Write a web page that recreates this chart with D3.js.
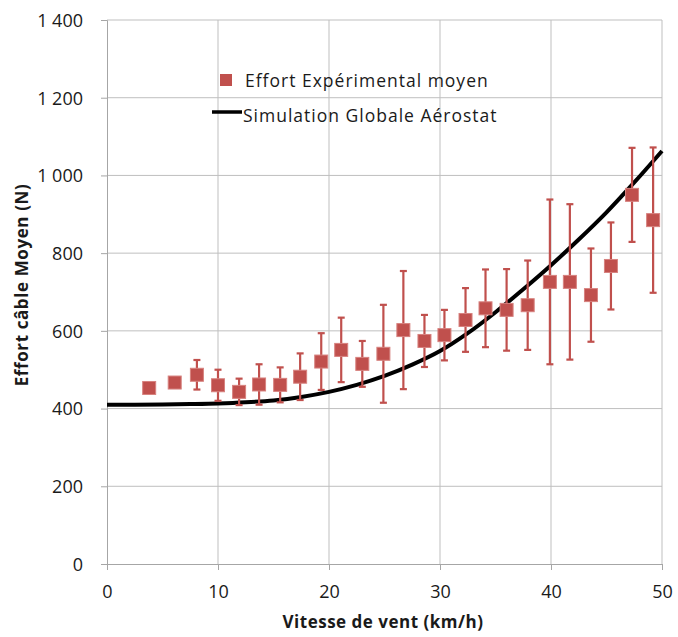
<!DOCTYPE html>
<html>
<head>
<meta charset="utf-8">
<script src="https://cdn.jsdelivr.net/npm/d3@7"></script>
<style>
  body { margin: 0; background: #fff; }
  svg { font-family: "Open Sans", "Noto Sans", sans-serif; }
</style>
</head>
<body>
<svg id="chart" width="678" height="637"></svg>
<script>
// experimental means (wind speed km/h, force N, half error bar)
const vitesse = [3.8, 6.1, 8.1, 10.0, 11.9, 13.7, 15.6, 17.4, 19.3, 21.1, 23.0, 24.9,
                 26.7, 28.6, 30.4, 32.3, 34.1, 36.0, 37.9, 39.9, 41.7, 43.6, 45.4, 47.3, 49.2];
const effort = [453, 467, 487, 460, 443, 462, 461, 482, 521, 551, 515, 541,
                602, 574, 589, 628, 658, 654, 666, 726, 726, 692, 767, 950, 885];
const erreur = [0, 0, 38, 40, 34, 52, 45, 60, 73, 83, 59, 126,
                152, 67, 65, 82, 100, 105, 115, 212, 200, 120, 112, 121, 187];

// simulation curve
const simVitesse = [0, 2.5, 5, 7.5, 10, 12.5, 15, 17.5, 20, 22.5, 25, 27.5, 30, 32.5, 35, 37.5, 40, 42.5, 45, 47.5, 50];
const simEffort = [410, 410, 410.5, 411.5, 413, 416, 421, 430, 443, 461, 484, 513, 548, 594, 648, 707, 769, 835, 905, 982, 1063];

const xTicks = [0, 10, 20, 30, 40, 50];
const yTicks = [0, 200, 400, 600, 800, 1000, 1200, 1400];

const red = "#c0504d";
const svg = d3.select("#chart");
const margin = {top: 20, right: 16, bottom: 73, left: 107};
const width = 678 - margin.left - margin.right;
const height = 637 - margin.top - margin.bottom;

const x = d3.scaleLinear().domain([0, 50]).range([0, width]);
const y = d3.scaleLinear().domain([0, 1400]).range([height, 0]);

const g = svg.append("g").attr("transform", `translate(${margin.left},${margin.top})`);

// grid
g.append("g").selectAll("line")
    .data(yTicks.slice(1))
    .join("line")
    .attr("x1", 0).attr("x2", width)
    .attr("y1", d => y(d)).attr("y2", d => y(d))
    .attr("stroke", "#bfbfbf").attr("stroke-width", 1);
g.append("g").selectAll("line")
    .data(xTicks.slice(1))
    .join("line")
    .attr("x1", d => x(d)).attr("x2", d => x(d))
    .attr("y1", 0).attr("y2", height)
    .attr("stroke", "#bfbfbf").attr("stroke-width", 1);

const fmt = d => d3.format(",")(d).replace(",", " ");

// axes
const xAxis = g.append("g")
    .attr("transform", `translate(0,${height})`)
    .call(d3.axisBottom(x).tickValues(xTicks).tickSize(6).tickPadding(15));
const yAxis = g.append("g")
    .call(d3.axisLeft(y).tickValues(yTicks).tickSize(6).tickPadding(18).tickFormat(fmt));

[xAxis, yAxis].forEach(a => {
    a.select(".domain").attr("stroke", "#a6a6a6");
    a.selectAll(".tick line").attr("stroke", "#a6a6a6");
    a.selectAll(".tick text")
        .attr("fill", "#1a1a1a")
        .style("font-size", "18px")
        .style("font-family", "'Open Sans', sans-serif");
});
xAxis.selectAll(".tick text").attr("dy", "0.71em");
yAxis.selectAll(".tick text").attr("dy", "0.35em");

// simulation line
const line = d3.line()
    .x((d, i) => x(simVitesse[i]))
    .y(d => y(d))
    .curve(d3.curveMonotoneX);

g.append("path")
    .datum(simEffort)
    .attr("d", line)
    .attr("fill", "none")
    .attr("stroke", "#000")
    .attr("stroke-width", 4);

// error bars
const pts = vitesse.map((v, i) => ({v, f: effort[i], e: erreur[i]}));
const bars = g.append("g").selectAll("g")
    .data(pts.filter(d => d.e > 0))
    .join("g")
    .attr("stroke", red)
    .attr("stroke-width", 2.2);
bars.append("line")
    .attr("x1", d => x(d.v)).attr("x2", d => x(d.v))
    .attr("y1", d => y(d.f - d.e)).attr("y2", d => y(d.f + d.e));
bars.append("line")
    .attr("x1", d => x(d.v) - 3.5).attr("x2", d => x(d.v) + 3.5)
    .attr("y1", d => y(d.f + d.e)).attr("y2", d => y(d.f + d.e));
bars.append("line")
    .attr("x1", d => x(d.v) - 3.5).attr("x2", d => x(d.v) + 3.5)
    .attr("y1", d => y(d.f - d.e)).attr("y2", d => y(d.f - d.e));

// markers
const sz = 13;
g.append("g").selectAll("rect")
    .data(pts)
    .join("rect")
    .attr("x", d => x(d.v) - sz / 2)
    .attr("y", d => y(d.f) - sz / 2)
    .attr("width", sz).attr("height", sz)
    .attr("fill", red)
    .attr("stroke", "#d7827f")
    .attr("stroke-width", 1);

// legend
const leg = svg.append("g")
    .style("font-size", "17.5px")
    .style("letter-spacing", "1px")
    .attr("fill", "#1a1a1a");
leg.append("rect").attr("x", 220).attr("y", 74).attr("width", 12).attr("height", 12).attr("fill", red);
leg.append("text").attr("x", 245).attr("y", 87).text("Effort Expérimental moyen");
leg.append("line").attr("x1", 212).attr("x2", 242).attr("y1", 112).attr("y2", 112)
    .attr("stroke", "#000").attr("stroke-width", 3.5);
leg.append("text").attr("x", 243).attr("y", 122).text("Simulation Globale Aérostat");

// axis titles
svg.append("text")
    .attr("x", 383)
    .attr("y", 628)
    .attr("text-anchor", "middle")
    .style("font-size", "17px").style("font-weight", "bold")
    .style("letter-spacing", "0.5px")
    .attr("fill", "#1a1a1a")
    .text("Vitesse de vent (km/h)");
svg.append("text")
    .attr("transform", "translate(28,285) rotate(-90)")
    .attr("text-anchor", "middle")
    .style("font-size", "17px").style("font-weight", "bold")
    .style("letter-spacing", "0.6px")
    .attr("fill", "#1a1a1a")
    .text("Effort câble Moyen (N)");
</script>
</body>
</html>
